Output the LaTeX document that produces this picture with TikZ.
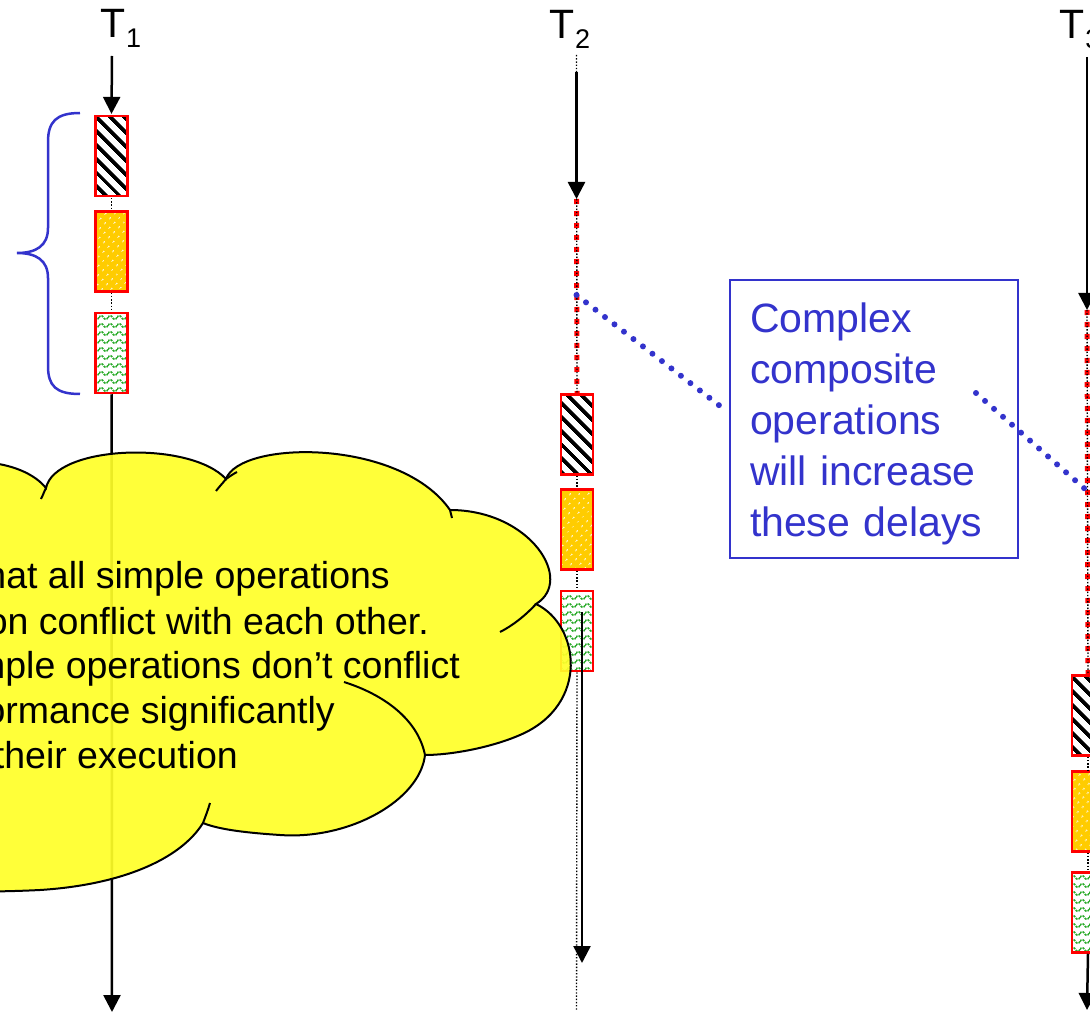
\documentclass[tikz,border=0pt]{standalone}
\usepackage{fontspec}
\setmainfont{Liberation Sans}
\usetikzlibrary{arrows.meta,patterns.meta}
\definecolor{boxblue}{RGB}{51,51,204}
\definecolor{cloudyellow}{RGB}{255,255,40}
\definecolor{opred}{RGB}{255,0,0}
\definecolor{oporange}{RGB}{255,204,0}
\definecolor{wavegreen}{RGB}{40,170,40}
\tikzdeclarepattern{
  name=greenwaves,
  type=uncolored,
  bounding box={(0pt,-1pt) and (9pt,6pt)},
  tile size={(9pt,8pt)},
  code={
    \draw[line width=1.6pt, dash pattern=on 2.2pt off 1.1pt] (0pt,2.5pt) .. controls (1.5pt,5pt) and (3pt,5pt) .. (4.5pt,2.5pt) .. controls (6pt,0pt) and (7.5pt,0pt) .. (9pt,2.5pt);
  }
}
\newcommand\tsub[1]{\kern1pt\raisebox{-10pt}{\fontsize{27}{27}\selectfont #1}}
\begin{document}
\begin{tikzpicture}[x=1pt,y=-1pt,
  opbox/.style={draw=opred, line width=2.5pt, minimum width=32pt, minimum height=80pt, inner sep=0pt},
  stripebox/.style={opbox, preaction={fill=white}, pattern={Lines[angle=-45,distance=10.5pt,line width=4.2pt]}, pattern color=black},
  dotbox/.style={opbox, preaction={fill=oporange}, pattern={Dots[angle=45,distance=6.5pt,radius=1pt]}, pattern color=white},
  wavebox/.style={opbox, preaction={fill=white}, pattern=greenwaves, pattern color=wavegreen},
  arr/.style={line width=2.5pt, -{Triangle[width=17pt,length=17pt]}},
  thindot/.style={line width=1.4pt, dash pattern=on 1.4pt off 1.8pt},
  reddot/.style={opred, line width=5pt, dash pattern=on 5pt off 7pt},
  bluedot/.style={boxblue, line width=6pt, line cap=round, dash pattern=on 0pt off 12pt},
  brace/.style={boxblue, line width=2.5pt},
  callout/.style={draw=boxblue, line width=2.5pt, text=boxblue, font=\fontsize{41}{51}\selectfont, align=left, text width=248pt, inner xsep=20pt, inner ysep=0pt, minimum width=288pt, minimum height=278pt},
  cloudshape/.style={fill=cloudyellow, fill opacity=0.92, draw=black, line width=2pt},
  cloudline/.style={draw=black, line width=2pt},
  cloudtxt/.style={font=\fontsize{37.5}{45}\selectfont, anchor=base east, inner sep=0pt},
  tlabel/.style={font=\fontsize{41}{41}\selectfont, anchor=base west, inner sep=0pt}]
\useasboundingbox (0,0) rectangle (1090,1024);
\clip (0,0) rectangle (1090,1024);

% ---------- operation boxes ----------
\node[stripebox] (a1) at (111.5,156) {};
\node[dotbox]    (a2) at (111.5,251.5) {};
\node[wavebox]   (a3) at (111.5,353) {};
\node[stripebox] (b1) at (577,434.5) {};
\node[dotbox]    (b2) at (577,529.5) {};
\node[wavebox]   (b3) at (577,631) {};
\node[stripebox] (c1) at (1088,715.5) {};
\node[dotbox]    (c2) at (1088,811.5) {};
\node[wavebox]   (c3) at (1088,912.5) {};

% ---------- labels ----------
\node[tlabel] (t1) at (100,38) {T\tsub{1}};
\node[tlabel] (t2) at (549,39) {T\tsub{2}};
\node[tlabel] (t3) at (1059,39) {T\tsub{3}};

% ---------- coordinates ----------
\coordinate (t1s) at (112,56);
\coordinate (t1e) at (112,1012);
\coordinate (t2s) at (576.5,55);
\coordinate (t2a) at (576.5,72);
\coordinate (t2b) at (576.5,199);
\coordinate (t2e) at (576.5,1010);
\coordinate (t2x) at (582,612);
\coordinate (t2y) at (582,963);
\coordinate (t3s) at (1087,57);
\coordinate (t3b) at (1087,310);
\coordinate (t3e) at (1087,1010);

% ---------- T1 ----------
\draw[arr] (t1s) -- (a1.north);
\draw[thindot] (a1.south) -- (a2.north);
\draw[thindot] (a2.south) -- (a3.north);
\draw[arr] (a3.south) -- (t1e);

% ---------- T2 ----------
\draw[reddot] (t2b) -- (b1.north);
\draw[thindot] (t2s) -- (b1.north);
\draw[arr] (t2a) -- (t2b);
\draw[thindot] (b1.south) -- (b2.north);
\draw[thindot] (b2.south) -- (b3.north);
\draw[thindot] (b3.south) -- (t2e);

% ---------- T3 ----------
\draw[reddot] (t3b) -- (c1.north);
\draw[thindot] (t3b) -- (c1.north);
\draw[arr] (t3s) -- (t3b);
\draw[thindot] (c1.south) -- (c2.north);
\draw[thindot] (c2.south) -- (c3.north);
\draw[arr] (c3.south) -- (t3e);

% ---------- brace ----------
\draw[brace] (80,113) .. controls (56,113) and (48,122) .. (48,142) -- (48,228)
  .. controls (48,246) and (36,253) .. (17,253)
  .. controls (36,253) and (48,260) .. (48,278) -- (48,366)
  .. controls (48,386) and (56,394) .. (80,394);

% ---------- cloud ----------
\path[cloudshape] (-100,470) -- (-60,470) .. controls (-30,455) and (25,462) .. (46,488)
 .. controls (55,445) and (190,440) .. (226,479)
 .. controls (240,440) and (400,438) .. (450,510)
 .. controls (530,510) and (575,580) .. (536,604)
 .. controls (580,625) and (590,705) .. (520,735)
 .. controls (490,748) and (450,755) .. (425,755)
 .. controls (420,800) and (350,840) .. (280,835)
 .. controls (250,833) and (220,830) .. (203,823)
 .. controls (180,860) and (120,885) .. (40,890)
 .. controls (0,892) and (-40,892) .. (-60,890) -- (-100,890) -- cycle;
\draw[cloudline] (46,488) .. controls (44,492) and (43,495) .. (41,499);
\draw[cloudline] (226,479) .. controls (229,477) and (233,474) .. (237,472);
\draw[cloudline] (226,479) .. controls (222,484) and (219,487) .. (216,491);
\draw[cloudline] (450,510) -- (452,518);
\draw[cloudline] (536,604) .. controls (525,616) and (512,626) .. (500,632);
\draw[cloudline] (425,755) .. controls (418,720) and (385,695) .. (344,682);
\draw[cloudline] (203,823) .. controls (206,815) and (208,810) .. (210,803);

\node[cloudtxt] (l1) at (390,588) {that all simple operations};
\node[cloudtxt] (l2) at (429,634) {on conflict with each other.};
\node[cloudtxt] (l3) at (460,678) {simple operations don’t conflict};
\node[cloudtxt] (l4) at (335,723) {performance significantly};
\node[cloudtxt] (l5) at (238,768) {their execution};

% ---------- T2 extra arrow ----------
\draw[arr] (t2x) -- (t2y);

% ---------- callout ----------
\node[callout] (note) at (874,419) {\rule{0pt}{40pt}Complex\\composite\\operations\\will increase\\these delays};
\coordinate (d1a) at (576.5,295);
\coordinate (d1b) at (720,406);
\coordinate (d2a) at (976,393);
\coordinate (d2b) at (1085,489);
\draw[bluedot] (d1a) -- (d1b);
\draw[bluedot] (d2a) -- (d2b);
\end{tikzpicture}
\end{document}
